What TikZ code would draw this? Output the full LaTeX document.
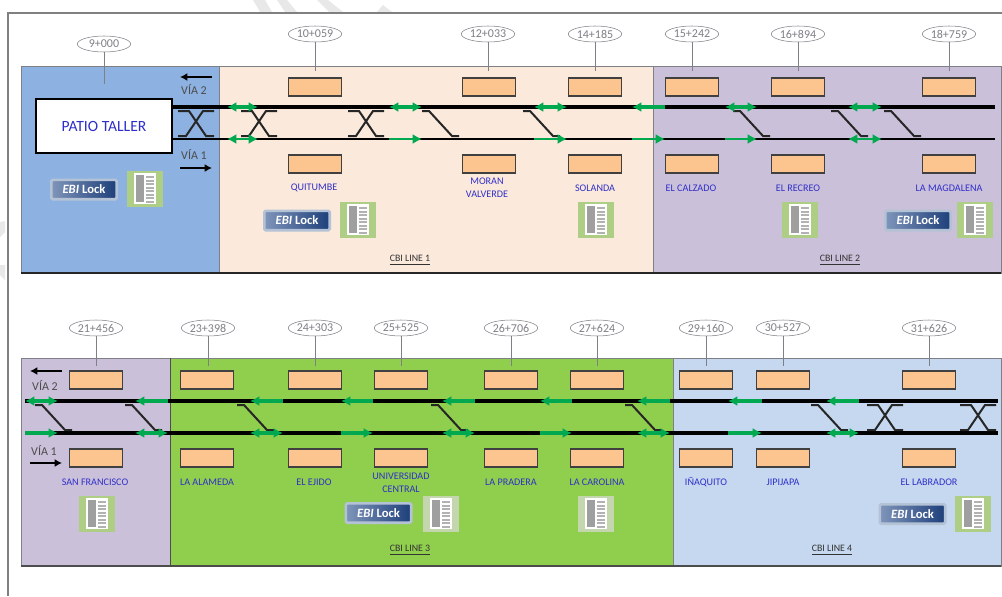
\documentclass[tikz,border=0pt]{standalone}
\usepackage{fontspec}
\setmainfont{Carlito}
\usepackage{tikz}
\usetikzlibrary{arrows.meta,shapes.geometric}
\definecolor{yardblue}{HTML}{8DB1E1}
\definecolor{linepeach}{HTML}{FBE9DB}
\definecolor{linelilac}{HTML}{CBC0D9}
\definecolor{linegreen}{HTML}{90CE4E}
\definecolor{lineblue}{HTML}{C5D8EF}
\definecolor{boxorange}{HTML}{FCC58F}
\definecolor{signalgreen}{HTML}{00A84F}
\definecolor{textblue}{HTML}{2F2FC8}
\definecolor{leadgray}{HTML}{7F7F86}
\definecolor{lockleft}{HTML}{7F95BA}
\definecolor{lockright}{HTML}{1E3F7A}
\definecolor{lockhalo}{HTML}{B4C2D6}
\definecolor{rackgreen}{HTML}{AFCE85}
\definecolor{rackpale}{HTML}{C4D6AE}
\tikzset{
  panel/.style={draw=leadgray,line width=0.6pt},
  kmoval/.style={ellipse,draw=leadgray,fill=white,text=leadgray,minimum width=40pt,minimum height=12pt,inner sep=0pt,font=\fontsize{9}{9}\selectfont},
  lead/.style={leadgray,line width=0.7pt},
  platform/.style={rectangle,draw=black!75,fill=boxorange,line width=0.8pt,minimum width=40pt,minimum height=13.5pt,inner sep=0pt},
  stationname/.style={text=textblue,align=center,font=\fontsize{7.6}{9.5}\selectfont},
  linename/.style={text=black!80,font=\fontsize{7.4}{8}\selectfont},
  vianame/.style={text=black!70,font=\fontsize{9}{9}\selectfont},
  railthick/.style={black,line width=2.8pt},
  railthin/.style={black,line width=1.7pt},
  turnout/.style={black!85,line width=1.5pt},
  sigboth/.style={signalgreen,line width=2.4pt,{Latex[length=7pt,width=7.5pt]}-{Latex[length=7pt,width=7.5pt]}},
  sigleft/.style={signalgreen,line width=2.4pt,{Latex[length=7pt,width=7.5pt]}-},
  sigright/.style={signalgreen,line width=2.4pt,-{Latex[length=7pt,width=7.5pt]}},
  ebilock/.style={rectangle,rounded corners=1pt,draw=lockhalo,line width=2pt,left color=lockleft,right color=lockright,text=white,minimum width=49pt,minimum height=14.5pt,inner sep=0pt,font=\fontsize{9.5}{9.5}\selectfont\bfseries},
  pics/rack/.style={code={
    \fill[#1] (-18,-18) rectangle (18,18);
    \fill[white] (-11,-16) rectangle (11,15);
    \fill[gray!75] (-9,-14) rectangle (-1,13);
    \foreach \r in {-13,-9.5,...,12}{\fill[gray!60] (1,\r) rectangle (9,\r+2);}
  }},
  pics/rack/.default=rackgreen
}
\begin{document}
\begin{tikzpicture}[x=0.75pt,y=-0.75pt]
\useasboundingbox (0,0) rectangle (1002,596);
% watermark
\fill[gray!18] (253,0)--(265,0)--(272,12)--(260,12)--cycle;
\fill[gray!18] (277,0)--(287,0)--(297,12)--(285,12)--cycle;
\fill[gray!18] (317,0)--(328,0)--(343,12)--(329,12)--cycle;
\fill[gray!18] (377,12)--(383,5)--(392,12)--cycle;
\fill[gray!18] (0,222)--(5,221)--(5,232)--(0,237)--cycle;
\fill[gray!18] (0,265)--(5,265)--(5,280)--(0,275)--cycle;
% page frame
\draw[gray,line width=1.2pt] (1002,13)--(8,13)--(8,596);
% panels
\filldraw[panel,fill=yardblue] (21,66) rectangle (219,273);
\filldraw[panel,fill=linepeach] (219,66) rectangle (653,273);
\filldraw[panel,fill=linelilac] (653,66) rectangle (1001,273);
\filldraw[panel,fill=linelilac] (21,358) rectangle (170,566);
\filldraw[panel,fill=linegreen] (170,358) rectangle (673,566);
\filldraw[panel,fill=lineblue] (673,358) rectangle (1001,566);
\draw[black!85,line width=0.8pt] (21,273)--(1001,273);
\draw[black!70,line width=0.8pt] (21,566)--(1001,566);
\draw[black!70,line width=0.6pt] (170,358)--(170,566);
% km posts
\foreach \n/\x/\y/\km in {a/104/44/9+000,b/315/34/10+059,c/488/34/12+033,d/595/34/14+185,e/692/34/15+242,f/798/34/16+894,g/949/34/18+759,
  h/96/328/21+456,i/208/328/23+398,j/315/328/24+303,k/401/328/25+525,l/511/328/26+706,m/597/328/27+624,n/706/328/29+160,o/783/328/30+527,p/929/328/31+626}{
  \node[kmoval] (km\n) at (\x,\y) {\km};
}
\foreach \n/\x/\y in {a/104/84,b/315/71,c/488/71,d/595/71,e/692/71,f/798/71,g/949/71,
  h/96/366,i/208/366,j/315/366,k/401/366,l/511/366,m/597/366,n/706/366,o/783/366,p/929/366}{
  \coordinate (foot\n) at (\x,\y);
  \draw[lead] (km\n) -- (foot\n);
}
% station boxes
\foreach \x in {315,489,595,692,798,949}{
  \node[platform] (up\x) at (\x,87) {};
  \node[platform] (dn\x) at (\x,164) {};
}
\foreach \x in {96,207,315,401,511,597,706,783,929}{
  \node[platform] (up\x) at (\x,380) {};
  \node[platform] (dn\x) at (\x,458) {};
}
% tracks
\node[rectangle,draw=black,fill=white,line width=0.8pt,minimum width=102pt,minimum height=40.5pt,text=textblue,font=\fontsize{11.7}{12}\selectfont] (patio) at (104,126) {PATIO TALLER};
\coordinate (via2end) at (995,107);
\coordinate (via1end) at (995,139);
\draw[railthick] (patio.east |- via2end) -- (via2end);
\draw[railthin] (patio.east |- via1end) -- (via1end);
\draw[railthick] (25,401) -- (998,401);
\draw[railthick] (25,433) -- (998,433);
% crossovers
\foreach \x/\y in {178/111,241/111,348/111,867/405,960/405}{
  \draw[turnout] (\x,\y)--++(11,0)--++(17,25)--++(8,0) ++(0,-25)--++(-11,0)--++(-17,25)--++(-8,0);
}
\foreach \x/\y in {422/111,523/111,733/111,831/111,884/111,35/405,125/405,237/405,431/405,625/405,811/405}{
  \draw[turnout] (\x,\y)--++(7,0)--++(23,25)--++(7,0);
}
% signals
\foreach \a/\b/\tip in {227/258/sigboth,389/422/sigboth,534/567/sigboth,632/665/sigleft,725/757/sigboth,848/882/sigboth}{
  \draw[\tip] (\a,107) -- (\b,107);
}
\foreach \a/\b/\tip in {227/258/sigboth,389/422/sigright,534/567/sigright,632/665/sigright,725/757/sigright,848/882/sigboth}{
  \draw[\tip,line width=1.7pt] (\a,139) -- (\b,139);
}
\foreach \a/\b/\tip in {25/58/sigboth,135/168/sigleft,250/283/sigleft,341/373/sigleft,442/475/sigleft,540/572/sigleft,637/670/sigleft,728/762/sigleft,826/859/sigleft}{
  \draw[\tip] (\a,401) -- (\b,401);
}
\foreach \a/\b/\tip in {25/58/sigright,135/168/sigboth,250/283/sigboth,341/373/sigright,442/475/sigboth,540/572/sigright,637/670/sigboth,728/762/sigright,826/859/sigboth}{
  \draw[\tip] (\a,433) -- (\b,433);
}
% track direction
\node[vianame] (via2a) at (194,89) {VÍA 2};
\node[vianame] (via1a) at (194,154) {VÍA 1};
\node[vianame] (via2b) at (45,385) {VÍA 2};
\node[vianame] (via1b) at (44,450) {VÍA 1};
\coordinate (via2aR) at (212,77);
\coordinate (via2aL) at (180,77);
\coordinate (via1aL) at (180,168);
\coordinate (via1aR) at (212,168);
\coordinate (via2bR) at (62,371);
\coordinate (via2bL) at (30,371);
\coordinate (via1bL) at (30,463);
\coordinate (via1bR) at (62,463);
\draw[-{Latex[length=5.5pt,width=6pt]},line width=1.2pt] (via2aR) -- (via2aL);
\draw[-{Latex[length=5.5pt,width=6pt]},line width=1.2pt] (via1aL) -- (via1aR);
\draw[-{Latex[length=5.5pt,width=6pt]},line width=1.2pt] (via2bR) -- (via2bL);
\draw[-{Latex[length=5.5pt,width=6pt]},line width=1.2pt] (via1bL) -- (via1bR);
% station names
\foreach \n/\x/\y/\t in {quitumbe/314/188/QUITUMBE,moran/487/188/{MORAN\\VALVERDE},solanda/595/188/SOLANDA,calzado/691/188/EL CALZADO,recreo/798/188/EL RECREO,magdalena/949/188/LA MAGDALENA,
  francisco/95/482/SAN FRANCISCO,alameda/207/482/LA ALAMEDA,ejido/314/482/EL EJIDO,central/401/483/{UNIVERSIDAD\\CENTRAL},pradera/511/482/LA PRADERA,carolina/597/482/LA CAROLINA,inaquito/706/482/IÑAQUITO,jipijapa/783/482/JIPIJAPA,labrador/929/482/EL LABRADOR}{
  \node[stationname] (\n) at (\x,\y) {\t};
}
% interlocking icons
\foreach \n/\x/\y in {a/84/189.5,b/297/220.5,c/918/220.5,d/378.5/513,e/912.5/514}{
  \node[ebilock] (lock\n) at (\x,\y) {\textit{EBI} Lock};
}
\foreach \x/\y in {145/189,358/220,596/220,800/220,974.5/220,97/514,973/514}{
  \pic at (\x,\y) {rack};
}
\foreach \x/\y in {441/514,596/514}{
  \pic at (\x,\y) {rack=rackpale};
}
% line names
\foreach \n/\x/\y in {1/410/260,2/840/260,3/410/550,4/832/550}{
  \node[linename] (cbi\n) at (\x,\y) {\underline{CBI LINE \n}};
}
\end{tikzpicture}
\end{document}
